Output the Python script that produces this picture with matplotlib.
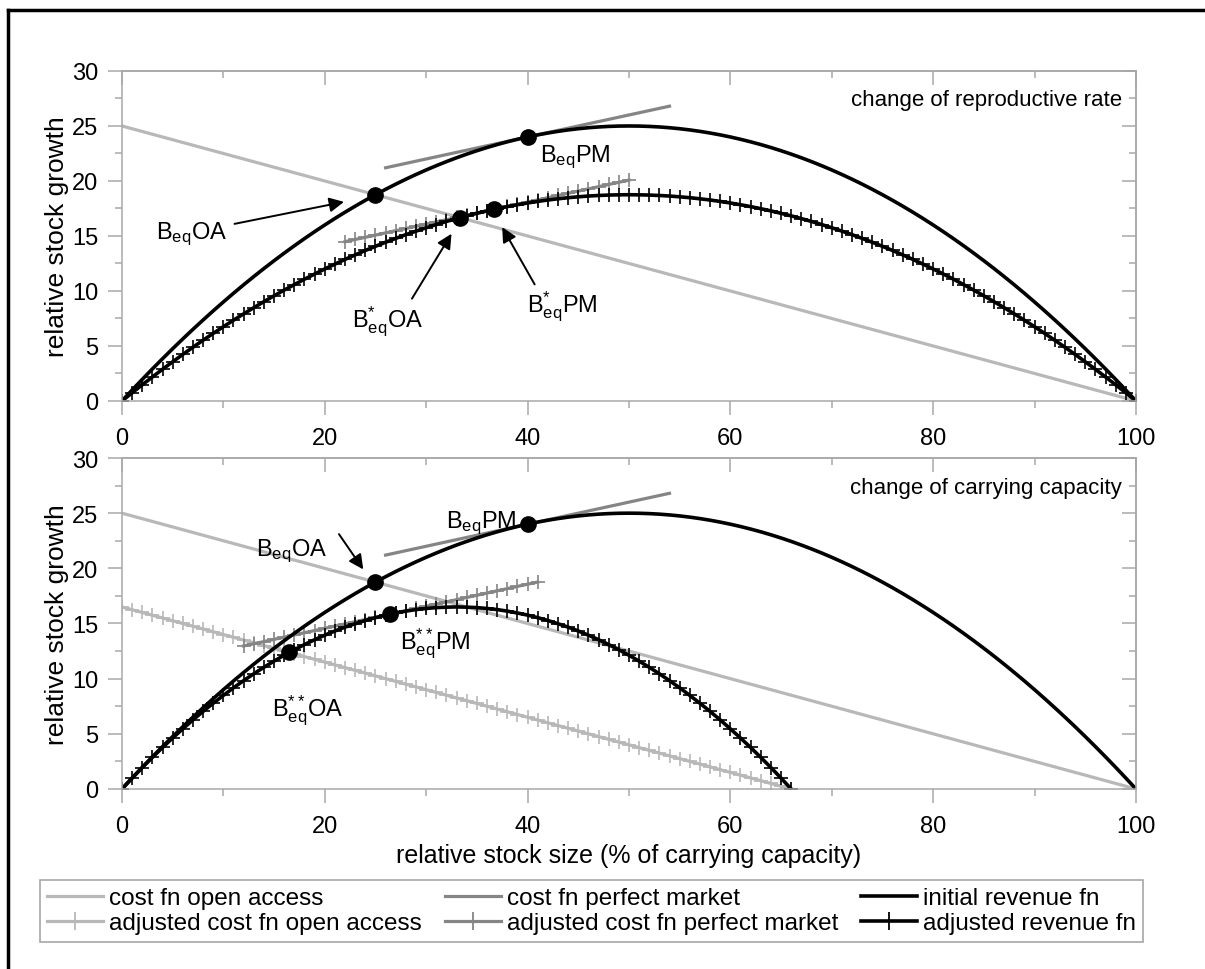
import matplotlib.pyplot as plt
from matplotlib.ticker import MultipleLocator
from matplotlib.lines import Line2D

plt.rcParams['font.family'] = 'Liberation Sans'
plt.rcParams['mathtext.fontset'] = 'custom'
plt.rcParams['mathtext.rm'] = 'Liberation Sans'
plt.rcParams['mathtext.it'] = 'Liberation Sans:italic'

# initial revenue fn (same in both panels)
x_rev = list(range(0, 101))
rev_initial = [0, 0.99, 1.96, 2.91, 3.84, 4.75, 5.64, 6.51, 7.36, 8.19, 9.0,
               9.79, 10.56, 11.31, 12.04, 12.75, 13.44, 14.11, 14.76, 15.39, 16.0,
               16.59, 17.16, 17.71, 18.24, 18.75, 19.24, 19.71, 20.16, 20.59, 21.0,
               21.39, 21.76, 22.11, 22.44, 22.75, 23.04, 23.31, 23.56, 23.79, 24.0,
               24.19, 24.36, 24.51, 24.64, 24.75, 24.84, 24.91, 24.96, 24.99, 25.0,
               24.99, 24.96, 24.91, 24.84, 24.75, 24.64, 24.51, 24.36, 24.19, 24.0,
               23.79, 23.56, 23.31, 23.04, 22.75, 22.44, 22.11, 21.76, 21.39, 21.0,
               20.59, 20.16, 19.71, 19.24, 18.75, 18.24, 17.71, 17.16, 16.59, 16.0,
               15.39, 14.76, 14.11, 13.44, 12.75, 12.04, 11.31, 10.56, 9.79, 9.0,
               8.19, 7.36, 6.51, 5.64, 4.75, 3.84, 2.91, 1.96, 0.99, 0]

# cost functions (same in both panels)
x_cost_oa = [0, 100]
cost_oa = [25, 0]
x_cost_pm = [26, 54]
cost_pm = [21.2, 26.8]

# change of reproductive rate
x_rate = list(range(0, 101))
rev_rate = [0, 0.74, 1.47, 2.18, 2.88, 3.56, 4.23, 4.88, 5.52, 6.14, 6.75,
            7.34, 7.92, 8.48, 9.03, 9.56, 10.08, 10.58, 11.07, 11.54, 12.0,
            12.44, 12.87, 13.28, 13.68, 14.06, 14.43, 14.78, 15.12, 15.44, 15.75,
            16.04, 16.32, 16.58, 16.83, 17.06, 17.28, 17.48, 17.67, 17.84, 18.0,
            18.14, 18.27, 18.38, 18.48, 18.56, 18.63, 18.68, 18.72, 18.74, 18.75,
            18.74, 18.72, 18.68, 18.63, 18.56, 18.48, 18.38, 18.27, 18.14, 18.0,
            17.84, 17.67, 17.48, 17.28, 17.06, 16.83, 16.58, 16.32, 16.04, 15.75,
            15.44, 15.12, 14.78, 14.43, 14.06, 13.68, 13.28, 12.87, 12.44, 12.0,
            11.54, 11.07, 10.58, 10.08, 9.56, 9.03, 8.48, 7.92, 7.34, 6.75,
            6.14, 5.52, 4.88, 4.23, 3.56, 2.88, 2.18, 1.47, 0.74, 0]
x_cost_pm_rate = list(range(22, 51))
cost_pm_rate = [14.48, 14.68, 14.88, 15.08, 15.28, 15.48, 15.68, 15.88, 16.08, 16.28,
                16.48, 16.68, 16.88, 17.08, 17.28, 17.48, 17.68, 17.88, 18.08, 18.28,
                18.48, 18.68, 18.88, 19.08, 19.28, 19.48, 19.68, 19.88, 20.08]
eq_rate_x = [25, 40, 33.33, 36.67]
eq_rate_y = [18.75, 24, 16.67, 17.42]

# change of carrying capacity
x_cap = list(range(0, 67))
rev_cap = [0, 0.98, 1.94, 2.86, 3.76, 4.62, 5.45, 6.26, 7.03, 7.77, 8.48,
           9.17, 9.82, 10.44, 11.03, 11.59, 12.12, 12.62, 13.09, 13.53, 13.94,
           14.32, 14.67, 14.98, 15.27, 15.53, 15.76, 15.95, 16.12, 16.26, 16.36,
           16.44, 16.48, 16.5, 16.48, 16.44, 16.36, 16.26, 16.12, 15.95, 15.76,
           15.53, 15.27, 14.98, 14.67, 14.32, 13.94, 13.53, 13.09, 12.62, 12.12,
           11.59, 11.03, 10.44, 9.82, 9.17, 8.48, 7.77, 7.03, 6.26, 5.45,
           4.62, 3.76, 2.86, 1.94, 0.98, 0]
cost_oa_cap = [16.5, 16.25, 16.0, 15.75, 15.5, 15.25, 15.0, 14.75, 14.5, 14.25, 14.0,
               13.75, 13.5, 13.25, 13.0, 12.75, 12.5, 12.25, 12.0, 11.75, 11.5,
               11.25, 11.0, 10.75, 10.5, 10.25, 10.0, 9.75, 9.5, 9.25, 9.0,
               8.75, 8.5, 8.25, 8.0, 7.75, 7.5, 7.25, 7.0, 6.75, 6.5,
               6.25, 6.0, 5.75, 5.5, 5.25, 5.0, 4.75, 4.5, 4.25, 4.0,
               3.75, 3.5, 3.25, 3.0, 2.75, 2.5, 2.25, 2.0, 1.75, 1.5,
               1.25, 1.0, 0.75, 0.5, 0.25, 0.0]
x_cost_pm_cap = list(range(12, 42))
cost_pm_cap = [12.96, 13.16, 13.36, 13.56, 13.76, 13.96, 14.16, 14.36, 14.56, 14.76,
               14.96, 15.16, 15.36, 15.56, 15.76, 15.96, 16.16, 16.36, 16.56, 16.76,
               16.96, 17.16, 17.36, 17.56, 17.76, 17.96, 18.16, 18.36, 18.56, 18.76]
eq_cap_x = [25, 40, 16.5, 26.4]
eq_cap_y = [18.75, 24, 12.38, 15.84]

LIGHT = '#b8b8b8'
MID = '#858585'
FRAME = '#a8a8a8'
LW = 2.3
TICK = dict(marker='+', ms=10, mew=1.2)

fig = plt.figure(figsize=(12.05, 9.70), dpi=100)
ax1 = fig.add_axes([0.1012, 0.5856, 0.8415, 0.3402])
ax2 = fig.add_axes([0.1012, 0.1856, 0.8415, 0.3412])


def style(ax):
    ax.set_xlim(0, 100)
    ax.set_ylim(0, 30)
    for s in ax.spines.values():
        s.set_color(FRAME)
        s.set_linewidth(1.1)
    ax.xaxis.set_major_locator(MultipleLocator(20))
    ax.xaxis.set_minor_locator(MultipleLocator(10))
    ax.yaxis.set_major_locator(MultipleLocator(5))
    ax.yaxis.set_minor_locator(MultipleLocator(2.5))
    ax.tick_params(which='major', direction='out', length=10, width=1.1,
                   color=FRAME, labelsize=17)
    ax.tick_params(which='minor', direction='out', length=5, width=1.1, color=FRAME)
    ax.tick_params(axis='x', pad=9)
    ax.tick_params(axis='y', pad=7)
    # inward ticks on the right and top edges
    sy = ax.secondary_yaxis('right')
    sy.yaxis.set_major_locator(MultipleLocator(5))
    sy.yaxis.set_minor_locator(MultipleLocator(2.5))
    sy.tick_params(which='major', direction='in', length=10, width=1.1, color=FRAME,
                   labelright=False)
    sy.tick_params(which='minor', direction='in', length=5, width=1.1, color=FRAME)
    sy.spines['right'].set_color(FRAME)
    sy.spines['right'].set_linewidth(1.1)
    sx = ax.secondary_xaxis('top')
    sx.xaxis.set_major_locator(MultipleLocator(20))
    sx.xaxis.set_minor_locator(MultipleLocator(10))
    sx.tick_params(which='major', direction='in', length=10, width=1.1, color=FRAME,
                   labeltop=False)
    sx.tick_params(which='minor', direction='in', length=5, width=1.1, color=FRAME)
    sx.spines['top'].set_color(FRAME)
    sx.spines['top'].set_linewidth(1.1)
    ax.set_ylabel('relative stock growth', fontsize=19, labelpad=2)


def arrow(ax, tail, head):
    ax.annotate('', xy=head, xytext=tail,
                arrowprops=dict(arrowstyle='-|>', color='black', lw=1.4,
                                mutation_scale=22, shrinkA=0, shrinkB=0))


lbl = dict(fontsize=17, ha='left', va='baseline')

# panel 1: change of reproductive rate
style(ax1)
ax1.plot(x_cost_oa, cost_oa, color=LIGHT, lw=LW)
ax1.plot(x_cost_pm, cost_pm, color=MID, lw=LW)
ax1.plot(x_cost_pm_rate, cost_pm_rate, color=MID, lw=LW, **TICK)
ax1.plot(x_rev, rev_initial, color='black', lw=LW + 0.3)
ax1.plot(x_rate, rev_rate, color='black', lw=LW + 0.3, **TICK)
ax1.plot(eq_rate_x, eq_rate_y, 'o', color='black', ms=11, zorder=5)
ax1.text(98.6, 26.9, 'change of reproductive rate', fontsize=16, ha='right', va='baseline')
ax1.text(3.4, 14.8, r'$\mathrm{B}_{\mathrm{eq}}\mathrm{OA}$', **lbl)
arrow(ax1, (11.1, 16.1), (21.9, 18.1))
ax1.text(41.2, 21.8, r'$\mathrm{B}_{\mathrm{eq}}\mathrm{PM}$', **lbl)
ax1.text(22.7, 6.8, r'$\mathrm{B}^{*}_{\mathrm{eq}}\mathrm{OA}$', **lbl)
arrow(ax1, (28.6, 9.3), (32.5, 15.2))
ax1.text(39.9, 8.1, r'$\mathrm{B}^{*}_{\mathrm{eq}}\mathrm{PM}$', **lbl)
arrow(ax1, (40.7, 10.6), (37.5, 15.8))

# panel 2: change of carrying capacity
style(ax2)
ax2.plot(x_cost_oa, cost_oa, color=LIGHT, lw=LW)
ax2.plot(x_cap, cost_oa_cap, color=LIGHT, lw=LW, **TICK)
ax2.plot(x_cost_pm, cost_pm, color=MID, lw=LW)
ax2.plot(x_cost_pm_cap, cost_pm_cap, color=MID, lw=LW, **TICK)
ax2.plot(x_rev, rev_initial, color='black', lw=LW + 0.3)
ax2.plot(x_cap, rev_cap, color='black', lw=LW + 0.3, **TICK)
ax2.plot(eq_cap_x, eq_cap_y, 'o', color='black', ms=11, zorder=5)
ax2.text(98.6, 26.8, 'change of carrying capacity', fontsize=16, ha='right', va='baseline')
ax2.text(13.2, 21.2, r'$\mathrm{B}_{\mathrm{eq}}\mathrm{OA}$', **lbl)
arrow(ax2, (21.4, 23.1), (23.8, 19.9))
ax2.text(32.0, 23.7, r'$\mathrm{B}_{\mathrm{eq}}\mathrm{PM}$', **lbl)
ax2.text(27.4, 12.7, r'$\mathrm{B}^{**}_{\mathrm{eq}}\mathrm{PM}$', **lbl)
ax2.text(14.8, 6.7, r'$\mathrm{B}^{**}_{\mathrm{eq}}\mathrm{OA}$', **lbl)
ax2.set_xlabel('relative stock size (% of carrying capacity)', fontsize=18, labelpad=4)

# legend, column-wise order gives the two rows
LEG_TICK = dict(marker='+', ms=13, mew=1.3)
handles = [
    Line2D([], [], color=LIGHT, lw=LW),
    Line2D([], [], color=LIGHT, lw=LW, **LEG_TICK),
    Line2D([], [], color=MID, lw=LW),
    Line2D([], [], color=MID, lw=LW, **LEG_TICK),
    Line2D([], [], color='black', lw=LW + 0.3),
    Line2D([], [], color='black', lw=LW + 0.3, **LEG_TICK),
]
labels = ['cost fn open access', 'adjusted cost fn open access',
          'cost fn perfect market', 'adjusted cost fn perfect market',
          'initial revenue fn', 'adjusted revenue fn']
leg = fig.legend(handles, labels, ncol=3, mode='expand', loc='upper left',
                 bbox_to_anchor=(40 / 1205, 1 - 882 / 970, (1143 - 40) / 1205, 0.001),
                 borderaxespad=0, fontsize=17.5, handlelength=2.3, handletextpad=0.25,
                 labelspacing=0.12, borderpad=0.3, columnspacing=0.8,
                 fancybox=False, frameon=True)
leg.get_frame().set_edgecolor('#909090')
leg.get_frame().set_linewidth(1.2)

# page frame
fig.add_artist(Line2D([8 / 1205, 8 / 1205], [0, 1 - 11 / 970], color='black', lw=2.5))
fig.add_artist(Line2D([8 / 1205, 1], [1 - 11 / 970, 1 - 11 / 970], color='black', lw=2.5))

fig.savefig('out.png', dpi=100)
